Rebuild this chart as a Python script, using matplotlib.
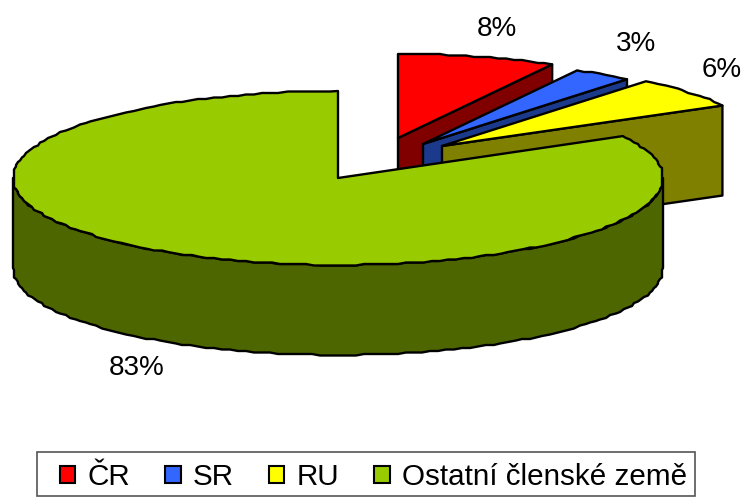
"""
Exploded 3D pie chart of member state shares, drawn as polygons on a pixel-sized axes.
"""
import numpy as np
import matplotlib
matplotlib.use("Agg")
import matplotlib.pyplot as plt
from matplotlib.patches import Patch, Polygon, Rectangle

plt.rcParams["font.family"] = ["Liberation Sans", "DejaVu Sans"]

labels = ["ČR", "SR", "RU", "Ostatní členské země"]
shares = [8, 3, 6, 83]
share_labels = ["8%", "3%", "6%", "83%"]

top_colors = ["#ff0000", "#3366ff", "#ffff00", "#99cc00"]
side_colors = ["#800000", "#1c3a8c", "#808000", "#4d6600"]

# pie geometry in picture pixels
DEPTH = 90
radii = [(320, 84), (320, 84), (320, 84), (325, 87)]
centers = [(398, 138), (423, 144), (442, 146), (338, 178)]
label_pos = [(497, 29), (636, 44), (722, 70), (137, 368)]


def arc(cx, cy, rx, ry, a0, a1):
    # angles in degrees, clockwise from 12 o'clock; snapping keeps the rough outline
    n = max(2, int(abs(a1 - a0) / 1.5) + 1)
    a = np.radians(np.linspace(a0, a1, n))
    x = cx + rx * np.sin(a)
    y = cy - ry * np.cos(a)
    x[1:-1] = np.round(x[1:-1] / 2) * 2
    y[1:-1] = np.round(y[1:-1] / 1.5) * 1.5
    return np.column_stack([x, y])


def add_poly(ax, pts, color, z):
    ax.add_patch(Polygon(pts, closed=True, facecolor=color, edgecolor="black",
                         linewidth=1.7, joinstyle="round", zorder=z))


fig = plt.figure(figsize=(7.42, 4.97), dpi=100)
ax = fig.add_axes([0, 0, 1, 1])
ax.set_xlim(0, 742)
ax.set_ylim(497, 0)
ax.axis("off")

edges = np.cumsum([0] + shares) / sum(shares) * 360
z = 1
for i in range(4):
    cx, cy = centers[i]
    rx, ry = radii[i]
    rim = arc(cx, cy, rx, ry, edges[i], edges[i + 1])
    if i < 3:
        # the cut face that is turned to the viewer
        end = rim[-1]
        wall = [(cx, cy), end, (end[0], end[1] + DEPTH), (cx, cy + DEPTH)]
        add_poly(ax, wall, side_colors[i], z)
    else:
        # outer wall of the big slice, right edge round to left edge
        front = arc(cx, cy, rx, ry, 90, 270)
        wall = np.vstack([front, (front + [0, DEPTH])[::-1]])
        add_poly(ax, wall, side_colors[i], z)
    z += 1
    add_poly(ax, np.vstack([[(cx, cy)], rim]), top_colors[i], z)
    z += 1

for text, (x, y) in zip(share_labels, label_pos):
    ax.text(x, y, text, fontsize=20, ha="center", va="center", color="black")

ax.add_patch(Rectangle((37, 452), 658, 44, facecolor="white", edgecolor="#555555",
                       linewidth=1.2, zorder=z))
handles = [Patch(facecolor=c, edgecolor="black", linewidth=1.5) for c in top_colors]
leg = ax.legend(handles, labels, ncol=4, loc="center left",
                bbox_to_anchor=(60 / 742, 1 - 477 / 497), fontsize=21.3, frameon=False,
                handlelength=0.52, handleheight=0.52, handletextpad=0.4,
                columnspacing=1.2, borderpad=0, borderaxespad=0)
leg.set_zorder(z + 1)

fig.savefig("out.png", dpi=100)
plt.close(fig)
